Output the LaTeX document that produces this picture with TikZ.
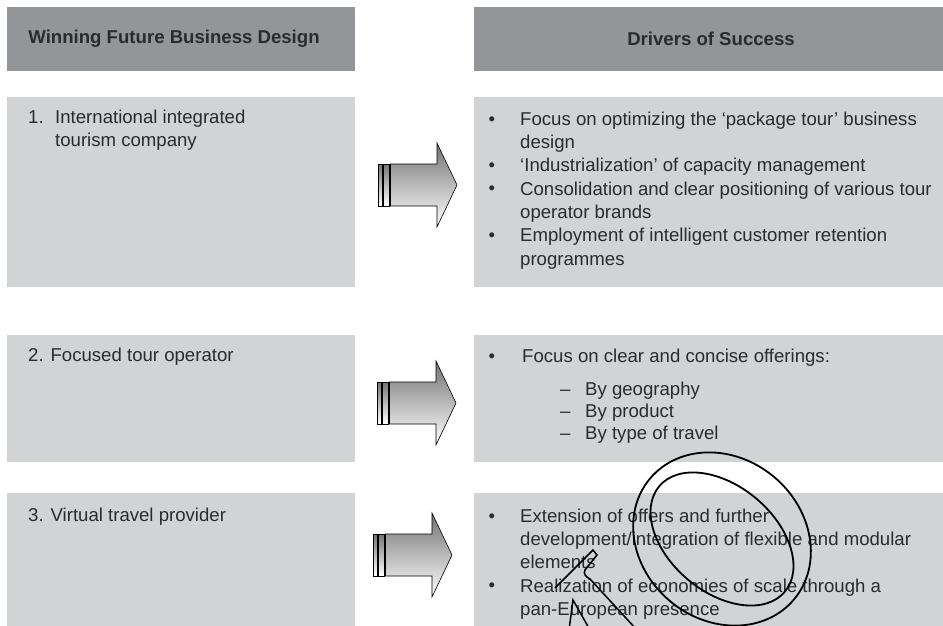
\documentclass[tikz,border=0pt]{standalone}
\usepackage{fontspec}
\setmainfont{Liberation Sans}
\usetikzlibrary{positioning,calc}
\definecolor{wfHead}{HTML}{939598}
\definecolor{wfBox}{HTML}{D1D3D4}
\definecolor{wfText}{HTML}{2B2B2B}
\tikzset{
  hdr/.style={fill=wfHead, draw=none, anchor=north west, inner sep=0pt},
  box/.style={fill=wfBox, draw=none, anchor=north west, inner sep=0pt},
  txt/.style={anchor=north west, inner sep=0pt, align=left, text=wfText,
              font=\fontsize{18.6}{23.3}\selectfont, yshift=16.31pt},
  htxt/.style={inner sep=0pt, text=wfText, font=\fontsize{18.6}{22}\selectfont\bfseries},
  bul/.style={anchor=base, inner sep=0pt, text=wfText, font=\fontsize{18.6}{23.3}\selectfont},
  shade/.style={draw=black, line width=0.6pt, top color=black!55, bottom color=white},
  lens/.style={draw=black, line width=1.8pt},
}

\begin{document}
\begin{tikzpicture}[x=1pt,y=-1pt]
  \useasboundingbox (0,0) rectangle (943,626);
  % headers
  \node[hdr, minimum width=348pt, minimum height=64pt] (hl) at (7,7) {};
  \node[hdr, minimum width=469pt, minimum height=64pt] (hr) at (474,7) {};
  \node[htxt] (hlt) at (174,39) {Winning Future Business Design};
  \node[htxt] (hrt) at (711,39) {Drivers of Success};

  % boxes
  \node[box, minimum width=348pt, minimum height=190pt] (l1) at (7,97) {};
  \node[box, minimum width=469pt, minimum height=190pt] (r1) at (474,97) {};
  \node[box, minimum width=348pt, minimum height=127pt] (l2) at (7,335) {};
  \node[box, minimum width=469pt, minimum height=127pt] (r2) at (474,335) {};
  \node[box, minimum width=348pt, minimum height=133pt] (l3) at (7,493) {};
  \node[box, minimum width=469pt, minimum height=133pt] (r3) at (474,493) {};

  % left texts
  \node[txt] (n1) at (28,123) {\strut 1.};
  \node[txt] (t1) at (55,123) {\strut International integrated\\tourism company};
  \node[txt] (t2) at (28,361) {\strut 2. Focused tour operator};
  \node[txt] (t3) at (28,521) {\strut 3. Virtual travel provider};

  % drivers
  \foreach \by [count=\i] in {125,171.6,194.9,241.5,362,522,591.9}
    \node[bul] (b\i) at (492,\by) {\textbullet};
  \node[txt] (d1) at (520,125) {\strut Focus on optimizing the ‘package tour’ business\\design};
  \node[txt] (d2) at (520,171.6) {\strut ‘Industrialization’ of capacity management};
  \node[txt] (d3) at (520,194.9) {\strut Consolidation and clear positioning of various tour\\operator brands};
  \node[txt] (d4) at (520,241.5) {\strut Employment of intelligent customer retention\\programmes};
  \node[txt] (d5) at (522,362) {\strut Focus on clear and concise offerings:};
  \foreach \by [count=\i] in {395,417,439}
    \node[txt] (s\i) at (560,\by) {\strut –};
  \node[txt, font=\fontsize{18.6}{22}\selectfont, yshift=-0.91pt] (d6) at (585,395) {\strut By geography\\By product\\By type of travel};
  \node[txt] (d7) at (520,522) {\strut Extension of offers and further\\development/integration of flexible and modular\\elements};
  \node[txt] (d8) at (520,591.9) {\strut Realization of economies of scale through a\\pan-European presence};

  % arrows
  \foreach \ax/\ay in {378/185,377/403,373/555}{
    \draw[shade] (\ax,\ay-21) rectangle (\ax+4,\ay+21);
    \draw[shade] (\ax+5.5,\ay-21) rectangle (\ax+11,\ay+21);
    \draw[shade] (\ax+12.5,\ay-21) -- (\ax+59,\ay-21) -- (\ax+59,\ay-42) -- (\ax+79,\ay)
      -- (\ax+59,\ay+42) -- (\ax+59,\ay+21) -- (\ax+12.5,\ay+21) -- cycle;
  }

  % magnifier
  \begin{scope}
    \clip (0,0) rectangle (943,626);
    \draw[lens, rotate around={-40:(722,539)}] (722,539) ellipse [x radius=94, y radius=81];
    \draw[lens, rotate around={-40:(722,539)}] (722,539) ellipse [x radius=82, y radius=53];
    \draw[lens, line width=1.5pt] (555,588) -- (593,550) -- (597,555) -- (585,570)
      .. controls (583,574) and (586,577) .. (590,579) -- (637,630);
    \draw[lens, line width=1.5pt] (569,630) -- (573,600) -- (590,630);
  \end{scope}
\end{tikzpicture}
\end{document}
